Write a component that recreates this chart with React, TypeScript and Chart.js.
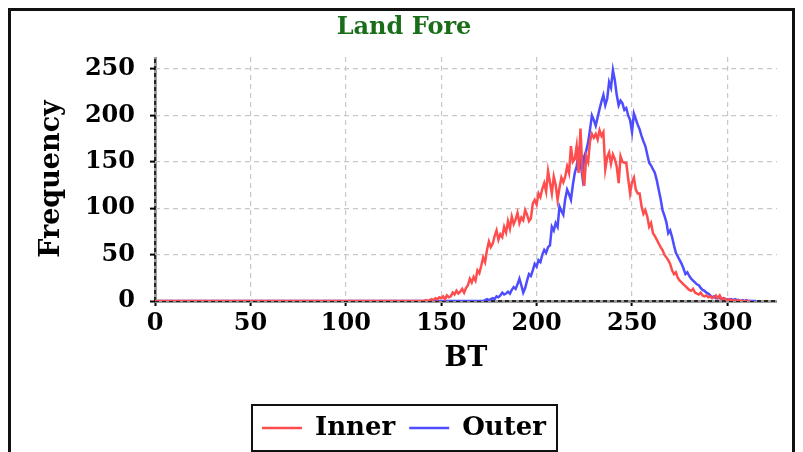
import React, { useEffect, useRef } from "react";
import { Chart, registerables } from "chart.js";

Chart.register(...registerables);

const TITLE = "Land Fore";
const X_LABEL = "BT";
const Y_LABEL = "Frequency";
const SERIES_NAMES = ["Inner", "Outer"];
const SERIES_COLORS = ["#ff4d4d", "#4d4dff"];
const X_TICKS = [0, 50, 100, 150, 200, 250, 300];
const Y_TICKS = [0, 50, 100, 150, 200, 250];
const X_MAX = 326;
const Y_MAX = 263;
const DATA_END = 312;

// Inner: bins 140..309 (zero before and after)
const INNER_START = 140;
const INNER = [
  0, 0, 1, 0, 1, 2, 1, 3, 2, 4,
  3, 5, 2, 6, 4, 5, 9, 7, 11, 8,
  10, 13, 9, 14, 17, 24, 20, 26, 22, 33,
  30, 38, 47, 42, 55, 64, 58, 62, 70, 76,
  66, 72, 69, 80, 74, 86, 78, 91, 83, 88,
  95, 84, 90, 87, 98, 93, 86, 89, 105, 109,
  104, 116, 112, 121, 127, 118, 140, 128, 116, 134,
  125, 109, 122, 133, 128, 134, 145, 138, 167, 150,
  153, 167, 138, 186, 140, 124, 156, 150, 172, 180,
  176, 180, 174, 184, 178, 182, 142, 155, 160, 148,
  158, 153, 145, 127, 156, 150, 149, 149, 132, 116,
  128, 133, 120, 116, 116, 102, 94, 98, 91, 80,
  84, 73, 70, 66, 62, 58, 55, 50, 47, 44,
  40, 33, 29, 31, 25, 22, 20, 18, 16, 14,
  12, 11, 13, 9, 8, 7, 9, 6, 5, 6,
  4, 5, 3, 4, 6, 3, 6, 2, 3, 2,
  1, 2, 1, 0, 1, 0, 1, 0, 0, 0,
];

// Outer: bins 170..315 (zero before and after)
const OUTER_START = 170;
const OUTER = [
  0, 0, 0, 1, 2, 1, 2, 3, 2, 5,
  4, 6, 9, 7, 8, 10, 8, 12, 15, 13,
  18, 24, 17, 9, 14, 22, 29, 27, 33, 40,
  37, 44, 42, 50, 55, 52, 58, 60, 80, 76,
  84, 80, 102, 97, 93, 110, 120, 115, 109, 125,
  138, 145, 160, 150, 134, 156, 162, 171, 185, 200,
  195, 189, 198, 207, 215, 222, 211, 218, 236, 230,
  249, 238, 222, 211, 216, 213, 206, 208, 200, 195,
  182, 202, 196, 190, 185, 178, 172, 167, 158, 149,
  146, 142, 138, 130, 120, 110, 98, 92, 85, 73,
  76, 69, 60, 52, 48, 44, 40, 35, 29, 31,
  27, 24, 22, 20, 18, 17, 14, 12, 11, 9,
  8, 6, 4, 5, 3, 4, 3, 2, 3, 2,
  2, 1, 2, 1, 2, 1, 1, 0, 1, 0,
  1, 0, 0, 0, 0, 0,
];

const FONT = "'DejaVu Serif', serif";

function toPoints(start: number, values: number[]) {
  const pts = [{ x: 0, y: 0 }];
  values.forEach((v, i) => pts.push({ x: start + i, y: v }));
  pts.push({ x: DATA_END, y: 0 });
  return pts;
}

const legendBoxPlugin = {
  id: "legendBox",
  afterDraw(chart: any) {
    const lg = chart.legend;
    if (!lg || !lg.legendHitBoxes || !lg.legendHitBoxes.length) return;
    const hb = lg.legendHitBoxes;
    const l = Math.min(...hb.map((h: any) => h.left)) - 10;
    const r = Math.max(...hb.map((h: any) => h.left + h.width)) + 11;
    const t = Math.min(...hb.map((h: any) => h.top)) - 10;
    const b = Math.max(...hb.map((h: any) => h.top + h.height)) + 10;
    const ctx = chart.ctx;
    ctx.save();
    ctx.lineWidth = 2;
    ctx.strokeStyle = "#111";
    ctx.strokeRect(l, t, r - l, b - t);
    ctx.restore();
  },
};

// black dashed zero axes drawn over the grey zero grid lines
const zeroAxesPlugin = {
  id: "zeroAxes",
  beforeDatasetsDraw(chart: any) {
    const { ctx, chartArea, scales } = chart;
    const x0 = scales.x.getPixelForValue(0);
    const y0 = scales.y.getPixelForValue(0);
    ctx.save();
    ctx.strokeStyle = "#000";
    ctx.lineWidth = 1.5;
    ctx.setLineDash([4, 3]);
    ctx.beginPath();
    ctx.moveTo(chartArea.left, y0);
    ctx.lineTo(chartArea.right, y0);
    ctx.moveTo(x0, chartArea.bottom);
    ctx.lineTo(x0, chartArea.top);
    ctx.stroke();
    ctx.restore();
  },
};

function gridColor(c: any) {
  return c.tick && c.tick.value === 0 ? "#9a9a9a" : "#c8c8c8";
}
function gridWidth(c: any) {
  return c.tick && c.tick.value === 0 ? 3 : 1.2;
}
function gridDash(c: any) {
  return c.tick && c.tick.value === 0 ? [] : [5, 4];
}

export default function App() {
  const ref = useRef<HTMLCanvasElement>(null);
  useEffect(() => {
    if (!ref.current) return;
    const chart = new Chart(ref.current, {
      type: "line",
      data: {
        datasets: [
          {
            label: SERIES_NAMES[0],
            data: toPoints(INNER_START, INNER),
            borderColor: SERIES_COLORS[0],
            backgroundColor: SERIES_COLORS[0],
            borderWidth: 2.5,
            pointRadius: 0,
            tension: 0,
          },
          {
            label: SERIES_NAMES[1],
            data: toPoints(OUTER_START, OUTER),
            borderColor: SERIES_COLORS[1],
            backgroundColor: SERIES_COLORS[1],
            borderWidth: 2.5,
            pointRadius: 0,
            tension: 0,
          },
        ],
      },
      options: {
        responsive: false,
        animation: false,
        layout: { padding: { left: 20, right: 15, top: 0, bottom: 10 } },
        plugins: {
          title: {
            display: true,
            text: TITLE,
            color: "#1a6e1a",
            font: { family: FONT, size: 24, weight: "bold" },
            padding: { top: 2, bottom: 15.2 },
          },
          legend: {
            display: true,
            position: "bottom",
            labels: {
              usePointStyle: true,
              pointStyle: "line",
              pointStyleWidth: 40,
              boxWidth: 40,
              padding: 14,
              color: "#000",
              font: { family: FONT, size: 26, weight: "bold" },
            },
          },
          tooltip: { enabled: false },
        },
        scales: {
          x: {
            type: "linear",
            min: 0,
            max: X_MAX,
            afterBuildTicks: (s: any) => {
              s.ticks = X_TICKS.map((v) => ({ value: v }));
            },
            afterFit: (s: any) => {
              s.height = 100;
            },
            ticks: {
              color: "#000",
              padding: 3,
              font: { family: FONT, size: 24, weight: "bold" },
              maxRotation: 0,
              autoSkip: false,
            },
            grid: {
              color: gridColor,
              lineWidth: gridWidth,
              tickColor: "#000",
              tickWidth: 2,
              tickLength: 5,
            },
            border: { display: false, dash: gridDash },
            title: {
              display: true,
              text: X_LABEL,
              color: "#000",
              font: { family: FONT, size: 27, weight: "bold" },
              padding: { top: 0, bottom: 25.8 },
            },
          },
          y: {
            type: "linear",
            min: 0,
            max: Y_MAX,
            afterBuildTicks: (s: any) => {
              s.ticks = Y_TICKS.map((v) => ({ value: v }));
            },
            afterFit: (s: any) => {
              s.width = 124;
            },
            ticks: {
              color: "#000",
              padding: 15,
              font: { family: FONT, size: 24, weight: "bold" },
            },
            grid: {
              color: gridColor,
              lineWidth: gridWidth,
              tickColor: "#000",
              tickWidth: 2,
              tickLength: 5,
            },
            border: { display: false, dash: gridDash },
            title: {
              display: true,
              text: Y_LABEL,
              color: "#000",
              font: { family: FONT, size: 27, weight: "bold" },
              padding: { top: 4.4, bottom: 0 },
            },
          },
        },
      },
      plugins: [legendBoxPlugin, zeroAxesPlugin],
    });
    return () => chart.destroy();
  }, []);

  return (
    <div style={{ border: "3px solid #111", width: 781, height: 450 }}>
      <canvas ref={ref} width={781} height={450} style={{ display: "block", width: 781, height: 450 }} />
    </div>
  );
}
